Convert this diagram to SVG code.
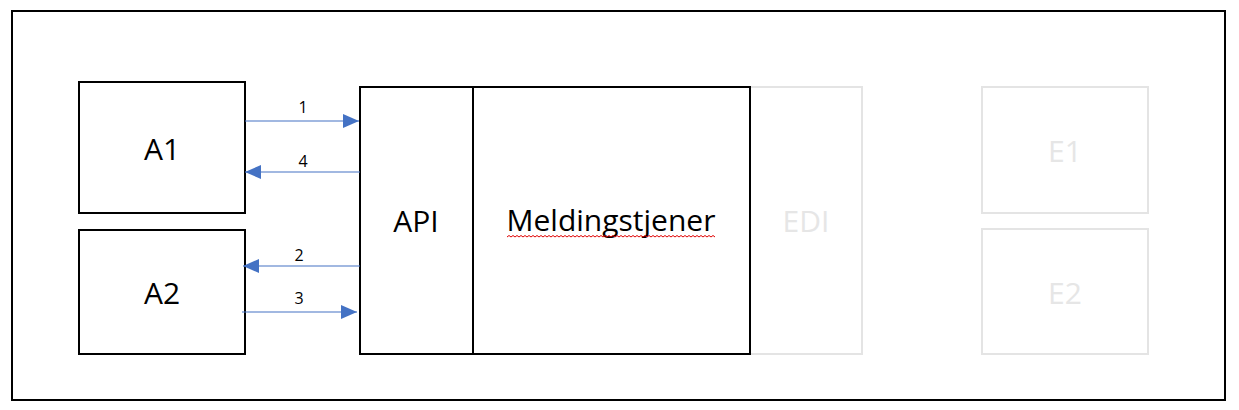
<svg xmlns="http://www.w3.org/2000/svg" width="1239" height="410" viewBox="0 0 1239 410">
<style>
.box{fill:#fff;stroke:#000;stroke-width:2}
.ghost{fill:#fff;stroke:#e4e4e4;stroke-width:2}
.t{font-family:"Open Sans","Liberation Sans",sans-serif;font-size:30px;fill:#000;text-anchor:middle;dominant-baseline:central}
.tg{font-family:"Open Sans","Liberation Sans",sans-serif;font-size:30px;fill:#e6e6e6;text-anchor:middle;dominant-baseline:central}
.n{font-family:"Open Sans","Liberation Sans",sans-serif;font-size:16px;fill:#000;text-anchor:middle;dominant-baseline:central}
.c{stroke:#4472c4;stroke-width:1.2;fill:none}
</style>
<defs>
<marker id="ah" markerWidth="16" markerHeight="14" refX="16" refY="7" orient="auto" markerUnits="userSpaceOnUse">
<path d="M0,0 L16,7 L0,14 Z" fill="#4472c4"/>
</marker>
</defs>
<rect x="12" y="11" width="1213" height="389" fill="#fff" stroke="#000" stroke-width="2"/>
<g id="A1"><rect class="box" x="79" y="82" width="166" height="131"/><text class="t" x="162" y="148">A1</text></g>
<g id="A2"><rect class="box" x="79" y="230" width="166" height="124"/><text class="t" x="162" y="292">A2</text></g>
<g id="EDI"><rect class="ghost" x="750" y="87" width="112" height="267"/><text class="tg" x="806" y="220">EDI</text></g>
<g id="API"><rect class="box" x="360" y="87" width="113" height="267"/><text class="t" x="416" y="220">API</text></g>
<g id="Meldingstjener"><rect class="box" x="473" y="87" width="277" height="267"/><text class="t" x="611" y="219">Meldingstjener</text>
<path d="M507,237 l2,-1.5 l2,1.5 l2,-1.5 l2,1.5 l2,-1.5 l2,1.5 l2,-1.5 l2,1.5 l2,-1.5 l2,1.5 l2,-1.5 l2,1.5 l2,-1.5 l2,1.5 l2,-1.5 l2,1.5 l2,-1.5 l2,1.5 l2,-1.5 l2,1.5 l2,-1.5 l2,1.5 l2,-1.5 l2,1.5 l2,-1.5 l2,1.5 l2,-1.5 l2,1.5 l2,-1.5 l2,1.5 l2,-1.5 l2,1.5 l2,-1.5 l2,1.5 l2,-1.5 l2,1.5 l2,-1.5 l2,1.5 l2,-1.5 l2,1.5 l2,-1.5 l2,1.5 l2,-1.5 l2,1.5 l2,-1.5 l2,1.5 l2,-1.5 l2,1.5 l2,-1.5 l2,1.5 l2,-1.5 l2,1.5 l2,-1.5 l2,1.5 l2,-1.5 l2,1.5 l2,-1.5 l2,1.5 l2,-1.5 l2,1.5 l2,-1.5 l2,1.5 l2,-1.5 l2,1.5 l2,-1.5 l2,1.5 l2,-1.5 l2,1.5 l2,-1.5 l2,1.5 l2,-1.5 l2,1.5 l2,-1.5 l2,1.5 l2,-1.5 l2,1.5 l2,-1.5 l2,1.5 l2,-1.5 l2,1.5 l2,-1.5 l2,1.5 l2,-1.5 l2,1.5 l2,-1.5 l2,1.5 l2,-1.5 l2,1.5 l2,-1.5 l2,1.5 l2,-1.5 l2,1.5 l2,-1.5 l2,1.5 l2,-1.5 l2,1.5 l2,-1.5 l2,1.5 l2,-1.5 l2,1.5 l2,-1.5 l2,1.5 l2,-1.5 l2,1.5" fill="none" stroke="#e00000" stroke-width="1"/>
</g>
<g id="E1"><rect class="ghost" x="982" y="87" width="166" height="126"/><text class="tg" x="1065" y="150">E1</text></g>
<g id="E2"><rect class="ghost" x="982" y="229" width="166" height="125"/><text class="tg" x="1065" y="292">E2</text></g>
<g id="connectors">
<line class="c" x1="245" y1="121" x2="359" y2="121" marker-end="url(#ah)"/>
<line class="c" x1="360" y1="172" x2="245" y2="172" marker-end="url(#ah)"/>
<line class="c" x1="360" y1="266" x2="243" y2="266" marker-end="url(#ah)"/>
<line class="c" x1="242" y1="312" x2="357" y2="312" marker-end="url(#ah)"/>
<text class="n" x="303" y="107">1</text>
<text class="n" x="303" y="161">4</text>
<text class="n" x="299" y="255">2</text>
<text class="n" x="299" y="298">3</text>
</g>
</svg>
